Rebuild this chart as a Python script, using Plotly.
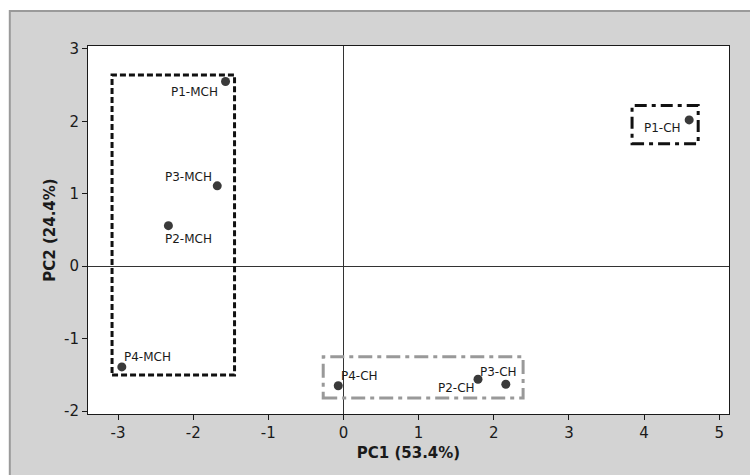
import plotly.graph_objects as go

# ---- data ----
labels = ["P1-MCH", "P2-MCH", "P3-MCH", "P4-MCH", "P1-CH", "P2-CH", "P3-CH", "P4-CH"]
pc1 = [-1.57, -2.33, -1.68, -2.95, 4.60, 1.79, 2.16, -0.07]
pc2 = [2.55, 0.56, 1.11, -1.39, 2.02, -1.56, -1.63, -1.65]
groups = ["MCH", "MCH", "MCH", "MCH", "CH1", "CH", "CH", "CH"]
x_ticks = [-3, -2, -1, 0, 1, 2, 3, 4, 5]
x_ticktext = ["-3", "-2", "-1", "0", "1", "2", "3", "4", "5"]
y_ticks = [-2, -1, 0, 1, 2, 3]
y_ticktext = ["-2", "-1", "0", "1", "2", "3"]

# label placement (pixel offsets relative to point)
label_pos = {
    "P1-MCH": (-31, 10), "P2-MCH": (20, 13), "P3-MCH": (-29, -9), "P4-MCH": (26, -10),
    "P1-CH": (-27, 8), "P2-CH": (-22, 9), "P3-CH": (-7, -12), "P4-CH": (21, -10),
}

# group boxes: padding (left, right, bottom, top) in data units and style
box_style = {
    "MCH": dict(pad=(0.13, 0.12, 0.11, 0.09), color="#111111", dash="6px,3px"),
    "CH1": dict(pad=(0.76, 0.12, 0.33, 0.20), color="#111111", dash="12px,5px,4px,5px"),
    "CH": dict(pad=(0.20, 0.23, 0.17, 0.31), color="#999999", dash="14px,5px,4px,5px"),
}

fig = go.Figure()
fig.add_trace(go.Scatter(
    x=pc1, y=pc2, mode="markers",
    marker=dict(size=9, color="#3a3a3a"),
    hoverinfo="text", text=labels, showlegend=False,
))

shapes = [
    # gray frame
    dict(type="rect", xref="paper", yref="paper", x0=-0.122, x1=1.1, y0=-0.2, y1=1.095,
         fillcolor="#d3d3d3", line=dict(color="#9a9a9a", width=2), layer="below"),
    dict(type="rect", xref="paper", yref="paper", x0=0, x1=1, y0=0, y1=1,
         fillcolor="white", line=dict(width=0), layer="below"),
]
for g, st in box_style.items():
    xs = [x for x, gg in zip(pc1, groups) if gg == g]
    ys = [y for y, gg in zip(pc2, groups) if gg == g]
    pl, pr, pb, pt = st["pad"]
    shapes.append(dict(type="rect", xref="x", yref="y",
                       x0=min(xs) - pl, x1=max(xs) + pr, y0=min(ys) - pb, y1=max(ys) + pt,
                       line=dict(color=st["color"], width=3, dash=st["dash"])))

annotations = []
for lab, x, y in zip(labels, pc1, pc2):
    dx, dy = label_pos[lab]
    annotations.append(dict(x=x, y=y, xref="x", yref="y", text=lab, showarrow=False,
                            xshift=dx, yshift=-dy,
                            font=dict(family="DejaVu Sans", size=12, color="#1a1a1a")))

fig.update_layout(
    width=750, height=475,
    margin=dict(l=88, r=21, t=46, b=61),
    paper_bgcolor="white", plot_bgcolor="rgba(0,0,0,0)",
    shapes=shapes, annotations=annotations,
    font=dict(family="DejaVu Sans", color="#1a1a1a"),
    xaxis=dict(range=[-3.4, 5.13], tickvals=x_ticks, ticktext=x_ticktext, showgrid=False,
               zeroline=True, zerolinecolor="#333333", zerolinewidth=1,
               showline=True, linecolor="#1a1a1a", linewidth=1, mirror=True,
               ticks="outside", ticklen=5, tickcolor="#1a1a1a",
               tickfont=dict(size=15, color="#1a1a1a"),
               title=dict(text="<b>PC1 (53.4%)</b>", font=dict(size=15, color="#1a1a1a"), standoff=6)),
    yaxis=dict(range=[-2.04, 3.04], tickvals=y_ticks, ticktext=y_ticktext, showgrid=False,
               zeroline=True, zerolinecolor="#333333", zerolinewidth=1,
               showline=True, linecolor="#1a1a1a", linewidth=1, mirror=True,
               ticks="outside", ticklen=5, tickcolor="#1a1a1a",
               tickfont=dict(size=15, color="#1a1a1a"),
               title=dict(text="<b>PC2 (24.4%)</b>", font=dict(size=15, color="#1a1a1a"), standoff=4)),
)

fig.write_html("out.html")
